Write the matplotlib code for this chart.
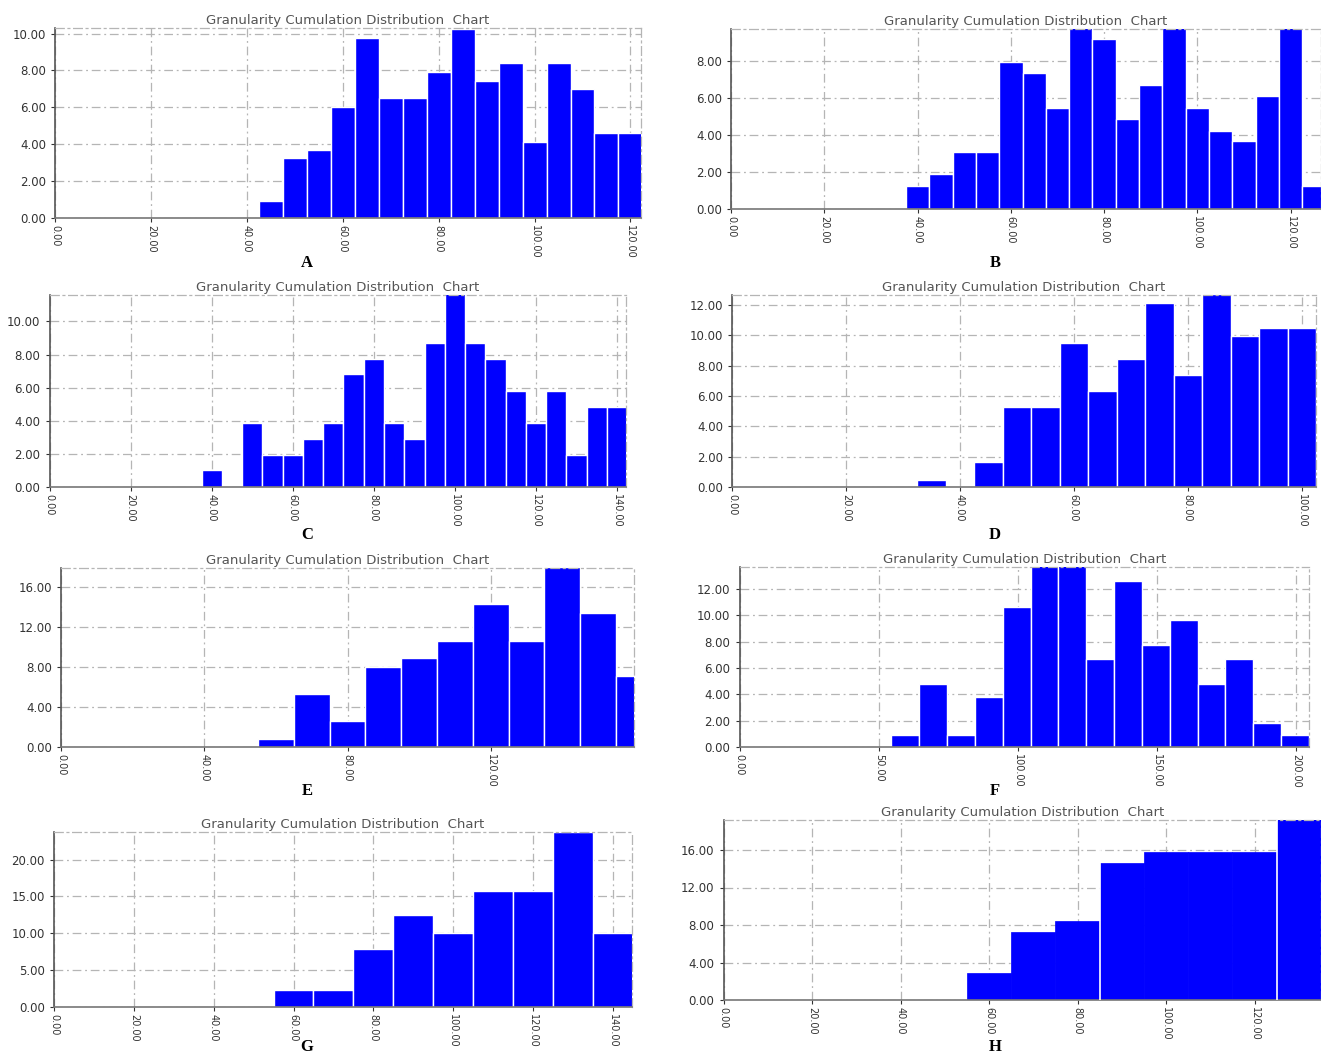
import numpy as np
import matplotlib
matplotlib.use("Agg")
import matplotlib.pyplot as plt

# ---- data (bin left edge, bin width, heights) ----
a_start, a_width = 42.5, 5
a_heights = [0.9, 3.24, 3.7, 6.04, 9.77, 6.52, 6.52, 7.9, 10.23, 7.42,
             8.38, 4.14, 8.38, 6.97, 4.63, 4.63]

b_start, b_width = 37.5, 5
b_heights = [1.24, 1.86, 3.05, 3.05, 7.91, 7.32, 5.44, 10.0, 9.14, 4.85,
             6.67, 10.0, 5.44, 4.23, 3.64, 6.07, 10.0, 1.24]

c_start, c_width = 37.5, 5
c_heights = [1.0, 0.0, 3.88, 1.96, 1.96, 2.89, 3.88, 6.81, 7.76, 3.88, 2.89,
             8.73, 11.7, 8.73, 7.76, 5.82, 3.88, 5.82, 1.96, 4.85, 4.85]

d_start, d_width = 32.5, 5
d_heights = [0.48, 0.0, 1.62, 5.24, 5.24, 9.47, 6.34, 8.42, 12.1, 7.39,
             12.7, 9.98, 10.5, 10.5]

e_start, e_width = 55, 10
e_heights = [0.8, 5.29, 2.56, 7.98, 8.95, 10.65, 14.27, 10.65, 18.0, 13.44, 7.12]

f_start, f_width = 54.5, 10
f_heights = [0.89, 4.81, 0.89, 3.8, 10.63, 13.8, 13.8, 6.71, 12.58, 7.72,
             9.65, 4.81, 6.71, 1.85, 0.89]

g_start, g_width = 55, 10
g_heights = [2.26, 2.26, 7.83, 12.44, 10.05, 15.75, 15.75, 23.8, 10.05]

h_start, h_width = 55, 10
h_heights = [2.85, 7.3, 8.43, 14.66, 15.84, 15.84, 15.84, 19.5]
h_gaps = [85, 125]

panel_labels = ["A", "B", "C", "D", "E", "F", "G", "H"]
title = "Granularity Cumulation Distribution  Chart"

W, H = 1321, 1057
fig = plt.figure(figsize=(W / 100, H / 100), dpi=100)

# pixel boxes (left, right, top, bottom)
boxes = [(55, 641, 28, 218), (731, 1321, 29, 209),
         (49.5, 626, 295, 487), (732, 1316, 295, 487),
         (61, 634, 568, 747), (739.5, 1309, 567, 747),
         (54, 632, 832, 1007), (723.5, 1321, 820, 1000)]

panels = [
    (a_start, a_width, a_heights, 122.2, 10.3, np.arange(0, 121, 20), np.arange(0, 11, 2)),
    (b_start, b_width, b_heights, 126.5, 9.7, np.arange(0, 121, 20), np.arange(0, 9, 2)),
    (c_start, c_width, c_heights, 142.2, 11.6, np.arange(0, 141, 20), np.arange(0, 11, 2)),
    (d_start, d_width, d_heights, 102.5, 12.65, np.arange(0, 101, 20), np.arange(0, 13, 2)),
    (e_start, e_width, e_heights, 160, 17.9, np.arange(0, 121, 40), np.arange(0, 17, 4)),
    (f_start, f_width, f_heights, 204.5, 13.65, np.arange(0, 201, 50), np.arange(0, 13, 2)),
    (g_start, g_width, g_heights, 144.8, 23.75, np.arange(0, 141, 20), np.arange(0, 21, 5)),
    (h_start, h_width, h_heights, 135, 19.2, np.arange(0, 121, 20), np.arange(0, 17, 4)),
]

dash = (0, (7, 3, 1.5, 3))

for i, (box, p) in enumerate(zip(boxes, panels)):
    l, r, t, b = box
    ax = fig.add_axes([l / W, 1 - b / H, (r - l) / W, (b - t) / H])
    start, width, heights, xmax, ymax, xt, yt = p
    lefts = start + width * np.arange(len(heights))
    if panel_labels[i] == "H":
        ax.bar(lefts, heights, width=width, align="edge", color="#0000ff",
               edgecolor="#0000ff", linewidth=0.5, zorder=2)
        for g in h_gaps:
            ax.axvline(g, color="white", lw=1.2, zorder=3)
    else:
        ax.bar(lefts, heights, width=width, align="edge", color="#0000ff",
               edgecolor="white", linewidth=1.0, zorder=2)
    ax.set_xlim(0, xmax)
    ax.set_ylim(0, ymax)
    ax.set_xticks(xt)
    ax.set_yticks(yt)
    ax.set_xticklabels(["%.2f" % v for v in xt], rotation=-90)
    ax.set_yticklabels(["%.2f" % v for v in yt])
    ax.tick_params(axis="both", colors="#333333", length=3, width=0.8)
    ax.tick_params(axis="y", labelsize=8.5)
    ax.tick_params(axis="x", labelsize=7, pad=2)
    ax.grid(True, color="#b5b5b5", linestyle=dash, linewidth=0.9, zorder=1)
    for s in ["top", "right"]:
        ax.spines[s].set_color("#b5b5b5")
        ax.spines[s].set_linestyle(dash)
        ax.spines[s].set_linewidth(0.9)
    ax.spines["left"].set_color("#555555")
    ax.spines["left"].set_linewidth(1.2)
    ax.spines["bottom"].set_color("#777777")
    ax.spines["bottom"].set_linewidth(1.2)
    ax.set_title(title, fontsize=9.5, color="#555555", pad=3)
    cx = 307 if i % 2 == 0 else 995
    ly = [263, 263, 535, 535, 791, 791, 1047, 1047][i]
    fig.text(cx / W, 1 - ly / H, panel_labels[i], ha="center", va="center",
             fontsize=12, fontweight="bold", family="Liberation Serif")

fig.savefig("out.png", dpi=100)
